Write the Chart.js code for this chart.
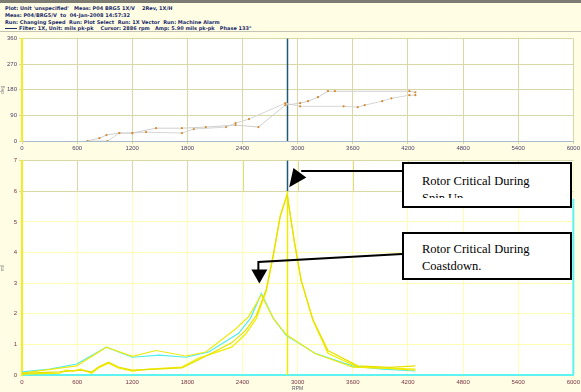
<!DOCTYPE html>
<html lang="en">
<head>
<meta charset="UTF-8">
<title>Rotor Critical Speed</title>
<script src="https://cdn.jsdelivr.net/npm/chart.js"></script>
<style>
  body { margin:0; width:581px; height:392px; background:#fffee4; position:relative; overflow:hidden;
         font-family:"DejaVu Sans", Arial, sans-serif; }
  .topbar { position:absolute; left:0; top:0; width:581px; height:3px; background:#7c7c72; }
  .hdr { position:absolute; left:5px; font-size:5px; line-height:6px; color:#1b2a6b; white-space:pre; font-weight:bold; }
  .swatch { display:inline-block; width:12px; height:1px; background:#1b2a6b; vertical-align:middle; margin-right:2px; }
  .sep { position:absolute; left:0; top:31px; width:581px; height:1px; background:#c4c4b4; }
  #phaseWrap { position:absolute; left:0; top:33px; }
  #ampWrap { position:absolute; left:0; top:155px; }
  .note { position:absolute; left:402px; width:166px; border:2px solid #000; background:#fff;
          font-family:"Liberation Serif","Times New Roman",serif; font-size:12.5px; line-height:17px; color:#000; }
  .note .txt { padding:9px 0 0 18px; overflow:hidden; }
</style>
</head>
<body>
<div class="topbar"></div>
<div class="hdr" style="top:5px">Plot: Unit 'unspecified'   Meas: P04 BRG5 1X/V    2Rev, 1X/H</div>
<div class="hdr" style="top:12px">Meas: P04/BRG5/V  to  04-Jan-2008 14:57:32</div>
<div class="hdr" style="top:19px">Run: Changing Speed  Run: Plot Select  Run: 1X Vector  Run: Machine Alarm</div>
<div class="hdr" style="top:25px"><span class="swatch"></span>Filter: 1X, Unit: mils pk-pk    Cursor: 2886 rpm   Amp: 5.90 mils pk-pk   Phase 133°</div>
<div class="sep"></div>

<div id="phaseWrap"><canvas id="phaseChart" width="581" height="122"></canvas></div>
<div id="ampWrap"><canvas id="ampChart" width="581" height="237"></canvas></div>

<div class="note" style="top:162px;height:42px"><div class="txt" style="height:25px">Rotor Critical During<br>Spin Up</div></div>
<div class="note" style="top:232px;height:44px"><div class="txt" style="padding-top:7px">Rotor Critical During<br>Coastdown.</div></div>

<script>
// speed range shared by both plots (rpm)
const rpmMin = 0, rpmMax = 6000, rpmStep = 600;
const cursorRpm = 2886;

// phase (deg) vs speed
const phaseUpRpm = [713, 843, 919, 1059, 1200, 1459, 1740, 2000, 2324, 2573, 2865, 3027, 3113, 3221, 3330, 3405, 4216, 4281];
const phaseUpDeg = [0, 10, 21, 28, 28, 45, 45, 49, 56, 49, 126, 133, 140, 154, 175, 175, 175, 171];
const phaseDownRpm = [713, 930, 1059, 1200, 1350, 1740, 1870, 2220, 2324, 2470, 2865, 3027, 3500, 3654, 3730, 3920, 4020, 4216, 4281];
const phaseDownDeg = [0, 0, 28, 28, 31, 28, 42, 49, 63, 77, 133, 122, 122, 119, 126, 140, 150, 161, 161];

// amplitude (mils pk-pk) vs speed
const coastRpm1 = [0, 303, 595, 919, 1200, 1492, 1784, 2032, 2357, 2486, 2605, 2735, 2875, 3189, 3600, 3924, 4281];
const coastAmp1 = [0.10, 0.19, 0.36, 0.91, 0.58, 0.65, 0.58, 0.75, 1.36, 1.85, 2.66, 1.85, 1.30, 0.71, 0.29, 0.19, 0.13];
const coastRpm2 = [0, 595, 919, 1200, 1459, 1784, 2000, 2324, 2465, 2605, 2735, 2875, 3189, 3600, 3924, 4281];
const coastAmp2 = [0.06, 0.30, 0.91, 0.61, 0.80, 0.62, 0.75, 1.50, 1.90, 2.62, 1.85, 1.32, 0.70, 0.26, 0.22, 0.16];
const spinRpm1 = [0, 411, 476, 562, 638, 757, 832, 941, 1049, 1200, 1384, 1740, 1924, 2281, 2432, 2551, 2659, 2735, 2811, 2886, 2962, 3038, 3167, 3330, 3654, 4281];
const spinAmp1 = [0.03, 0.06, 0.16, 0.13, 0.19, 0.06, 0.23, 0.39, 0.23, 0.13, 0.19, 0.26, 0.55, 0.91, 1.33, 1.85, 2.75, 3.89, 5.19, 5.90, 4.38, 3.08, 1.78, 0.71, 0.26, 0.19];
const spinRpm2 = [0, 411, 638, 757, 832, 941, 1049, 1200, 1459, 1740, 1924, 2281, 2432, 2551, 2659, 2735, 2811, 2886, 2962, 3038, 3167, 3330, 3654, 4000, 4281];
const spinAmp2 = [0.05, 0.10, 0.16, 0.10, 0.26, 0.42, 0.26, 0.16, 0.19, 0.23, 0.50, 1.05, 1.45, 1.95, 2.80, 3.95, 5.20, 5.88, 4.40, 3.10, 1.80, 0.80, 0.30, 0.25, 0.30];

const olive = '#d8d8a6';
const paleYellow = '#ffffb4';
const tickColor = '#4a4068';

function pts(xs, ys) {
  return xs.map((x, i) => ({ x: x, y: ys[i] }));
}

function lineSet(xs, ys, color, width) {
  return { data: pts(xs, ys), showLine: true, borderColor: color, borderWidth: width || 1.2,
           pointRadius: 0, tension: 0 };
}

// plain numbers, no thousands separator
const plain = v => String(v);

// white plot background
const plotBg = {
  id: 'plotBg',
  beforeDraw(chart) {
    const a = chart.chartArea, ctx = chart.ctx;
    ctx.save();
    ctx.fillStyle = '#ffffff';
    ctx.fillRect(a.left, a.top, a.right - a.left, a.bottom - a.top);
    ctx.restore();
  }
};

function arrowHead(ctx, fx, fy, tx, ty, len, half) {
  const dx = tx - fx, dy = ty - fy, d = Math.hypot(dx, dy);
  const ux = dx / d, uy = dy / d;
  const bx = tx - ux * len, by = ty - uy * len;
  ctx.beginPath();
  ctx.moveTo(tx, ty);
  ctx.lineTo(bx - uy * half, by + ux * half);
  ctx.lineTo(bx + uy * half, by - ux * half);
  ctx.closePath();
  ctx.fill();
}

const phaseCursor = {
  id: 'phaseCursor',
  beforeDatasetsDraw(chart) {
    const { ctx, chartArea: a, scales: { x } } = chart;
    const cx = Math.round(x.getPixelForValue(cursorRpm)) + 0.5;
    ctx.save();
    ctx.strokeStyle = '#1d5a78';
    ctx.lineWidth = 1.5;
    ctx.beginPath(); ctx.moveTo(cx, a.top); ctx.lineTo(cx, a.bottom); ctx.stroke();
    ctx.restore();
  }
};

const ampDecor = {
  id: 'ampDecor',
  beforeDatasetsDraw(chart) {
    const { ctx, chartArea: a, scales: { x, y } } = chart;
    const y6 = y.getPixelForValue(6), y7 = y.getPixelForValue(7);
    ctx.save();
    // darker grid band above 6
    ctx.strokeStyle = olive; ctx.lineWidth = 1;
    for (let v = rpmMin + rpmStep; v < rpmMax; v += rpmStep) {
      const px = Math.round(x.getPixelForValue(v)) + 0.5;
      ctx.beginPath(); ctx.moveTo(px, y7); ctx.lineTo(px, y6); ctx.stroke();
    }
    // cursor
    const cx = Math.round(x.getPixelForValue(cursorRpm)) + 0.5;
    ctx.lineWidth = 1.5;
    ctx.strokeStyle = '#1d5a78';
    ctx.beginPath(); ctx.moveTo(cx, a.top); ctx.lineTo(cx, y6); ctx.stroke();
    ctx.strokeStyle = '#f0ec00';
    ctx.beginPath(); ctx.moveTo(cx, y6); ctx.lineTo(cx, a.bottom); ctx.stroke();
    // right edge
    ctx.strokeStyle = '#5ef2f2'; ctx.lineWidth = 2;
    ctx.beginPath(); ctx.moveTo(a.right, y.getPixelForValue(5.75)); ctx.lineTo(a.right, a.bottom); ctx.stroke();
    ctx.restore();
  },
  afterDraw(chart) {
    const { ctx, scales: { x, y } } = chart;
    const top = chart.canvas.parentNode.offsetTop;
    const boxLeft = 402;
    ctx.save();
    ctx.strokeStyle = '#000'; ctx.fillStyle = '#000'; ctx.lineWidth = 2;
    // spin-up peak
    const t1x = x.getPixelForValue(spinRpm1[19]) + 2, t1y = y.getPixelForValue(spinAmp1[19]) - 7;
    ctx.beginPath(); ctx.moveTo(boxLeft, 171 - top); ctx.lineTo(t1x + 12, 171 - top); ctx.stroke();
    arrowHead(ctx, t1x + 12, 171 - top, t1x, t1y, 18, 8);
    // coastdown peak
    const t2x = x.getPixelForValue(coastRpm1[10]) - 2, t2y = y.getPixelForValue(coastAmp1[10]) - 10;
    ctx.beginPath(); ctx.moveTo(boxLeft, 254 - top); ctx.lineTo(t2x - 1, 262 - top); ctx.lineTo(t2x - 1, t2y - 13); ctx.stroke();
    arrowHead(ctx, t2x, t2y - 14, t2x, t2y, 14, 8);
    ctx.restore();
  }
};

new Chart(document.getElementById('phaseChart'), {
  type: 'scatter',
  data: {
    datasets: [
      { data: pts(phaseUpRpm, phaseUpDeg), showLine: true, borderColor: '#cfcfcf', borderWidth: 1,
        pointRadius: 1.1, pointBackgroundColor: '#d88a2a', pointBorderWidth: 0 },
      { data: pts(phaseDownRpm, phaseDownDeg), showLine: true, borderColor: '#d6d6d6', borderWidth: 1,
        pointRadius: 1.1, pointBackgroundColor: '#d88a2a', pointBorderWidth: 0 }
    ]
  },
  options: {
    responsive: false, animation: false,
    layout: { padding: { top: 5, right: 4, left: 0, bottom: 0 } },
    plugins: { legend: { display: false }, tooltip: { enabled: false } },
    scales: {
      x: {
        type: 'linear', min: rpmMin, max: rpmMax,
        ticks: { stepSize: rpmStep, font: { size: 6 }, color: tickColor, padding: 1, maxRotation: 0, autoSkip: false, callback: plain },
        grid: { color: olive, tickLength: 3 },
        border: { color: '#a9bccb', width: 1 },
        afterFit(s) { s.height = 14; }
      },
      y: {
        min: 0, max: 360,
        ticks: { stepSize: 90, font: { size: 6 }, color: tickColor, padding: 2, callback: plain },
        grid: { color: olive, tickLength: 3 },
        border: { color: '#f2ee20', width: 2 },
        title: { display: true, text: 'deg', font: { size: 5 }, color: '#8a8a8a', padding: 0 },
        afterFit(s) { s.width = 22; }
      }
    }
  },
  plugins: [plotBg, phaseCursor]
});

new Chart(document.getElementById('ampChart'), {
  type: 'scatter',
  data: {
    datasets: [
      lineSet(spinRpm2, spinAmp2, '#e6e000', 1.2),
      lineSet(spinRpm1, spinAmp1, '#f2ee00', 1.3),
      lineSet(coastRpm2, coastAmp2, '#eeea10', 1.2),
      lineSet(coastRpm1, coastAmp1, '#52ecec', 1.2)
    ]
  },
  options: {
    responsive: false, animation: false,
    layout: { padding: { top: 4, right: 4, left: 0, bottom: 0 } },
    plugins: { legend: { display: false }, tooltip: { enabled: false } },
    scales: {
      x: {
        type: 'linear', min: rpmMin, max: rpmMax,
        ticks: { stepSize: rpmStep, font: { size: 6 }, color: '#7a3040', padding: 1, maxRotation: 0, autoSkip: false, callback: plain },
        grid: { color: paleYellow, tickLength: 3 },
        border: { color: '#5ef2f2', width: 2 },
        title: { display: true, text: 'RPM', font: { size: 5 }, color: '#5a5060', padding: 0 },
        afterFit(s) { s.height = 17; }
      },
      y: {
        min: 0, max: 7,
        ticks: { stepSize: 1, font: { size: 6 }, color: '#7a3040', padding: 2, callback: plain },
        grid: { color: c => (c.tick && c.tick.value >= 6 ? olive : paleYellow), tickLength: 3 },
        border: { color: '#f2ee20', width: 2 },
        title: { display: true, text: 'mil', font: { size: 5 }, color: '#8a8a8a', padding: 0 },
        afterFit(s) { s.width = 22; }
      }
    }
  },
  plugins: [plotBg, ampDecor]
});
</script>
</body>
</html>
